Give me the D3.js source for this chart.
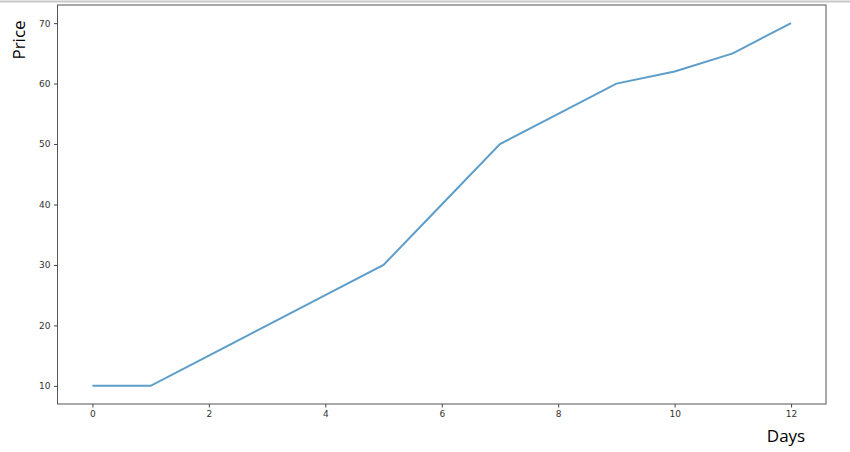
<!DOCTYPE html>
<html>
<head>
<meta charset="utf-8">
<script src="https://cdn.jsdelivr.net/npm/d3@7"></script>
<style>
  body { margin: 0; background: #fff; }
  .tick text { font-family: "DejaVu Sans", sans-serif; font-size: 9px; fill: #333; }
  .tick line { stroke: #444; }
  .domain { display: none; }
  .axlabel { font-family: "Open Sans", "Liberation Sans", sans-serif; font-size: 17px; fill: #000; }
</style>
</head>
<body>
<div id="chart"></div>
<script>
var days = [0, 1, 2, 3, 4, 5, 6, 7, 8, 9, 10, 11, 12],
    prices = [10, 10, 15, 20, 25, 30, 40, 50, 55, 60, 62, 65, 70],
    xticks = [0, 2, 4, 6, 8, 10, 12],
    yticks = [10, 20, 30, 40, 50, 60, 70];

var width = 850, height = 452;

var margin = {top: 5, right: 24, bottom: 48, left: 57.5},
    w = width - margin.left - margin.right,
    h = height - margin.top - margin.bottom;

var svg = d3.select("#chart").append("svg")
    .attr("width", width)
    .attr("height", height);

// thin grey strip along the top of the screenshot
svg.append("rect")
    .attr("x", 0).attr("y", 0.5)
    .attr("width", width).attr("height", 2)
    .attr("fill", "#c8c8c8");

var g = svg.append("g").attr("transform", "translate(" + margin.left + "," + margin.top + ")");

var x = d3.scaleLinear().range([0, w]).domain([-0.6, 12.6]),
    y = d3.scaleLinear().range([h, 0]).domain([7, 73]);

var xAxis = d3.axisBottom(x).tickValues(xticks).tickSize(3.5).tickPadding(3.5),
    yAxis = d3.axisLeft(y).tickValues(yticks).tickSize(3.5).tickPadding(3.5);

g.append("g")
    .attr("transform", "translate(0," + h + ")")
    .call(xAxis);
g.append("g").call(yAxis);

g.append("rect")
    .attr("width", w).attr("height", h)
    .attr("fill", "none")
    .attr("stroke", "#555")
    .attr("stroke-width", 1);

var line = d3.line()
    .x(function(d, i) { return x(days[i]); })
    .y(function(d) { return y(d); });

g.append("path")
    .datum(prices)
    .attr("fill", "none")
    .attr("stroke", "#1f77b4")
    .attr("stroke-opacity", 0.72)
    .attr("stroke-width", 2)
    .attr("d", line);

svg.append("text")
    .attr("class", "axlabel")
    .attr("transform", "translate(25,40) rotate(-90)")
    .attr("text-anchor", "middle")
    .text("Price");

svg.append("text")
    .attr("class", "axlabel")
    .attr("x", 786).attr("y", 442)
    .attr("text-anchor", "middle")
    .text("Days");
</script>
</body>
</html>
